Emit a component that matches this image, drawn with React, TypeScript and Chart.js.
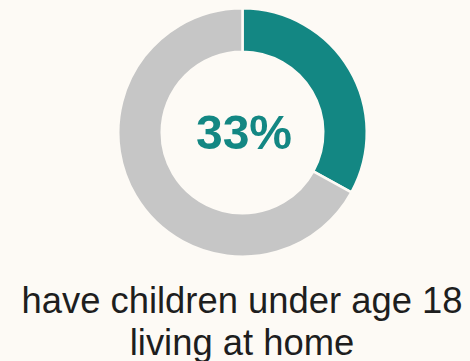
import React, { useEffect, useRef } from "react";
import { Chart, registerables } from "chart.js";

Chart.register(...registerables);

const categories = ["Have children under 18 at home", "Other"];
const values = [33, 67];
const colors = ["#138783", "#c6c6c6"];
const centerLabel = "33%";
const captionLines = ["have children under age 18", "living at home"];

const BG = "#fdfaf5";

const centerTextPlugin = {
  id: "centerText",
  afterDatasetsDraw(chart: any) {
    const meta = chart.getDatasetMeta(0);
    const arc = meta.data[0];
    if (!arc) return;
    const ctx = chart.ctx;
    ctx.save();
    ctx.font = "bold 48px 'Liberation Sans', Arial, sans-serif";
    ctx.fillStyle = colors[0];
    ctx.textAlign = "center";
    ctx.textBaseline = "alphabetic";
    ctx.fillText(centerLabel, arc.x + 1.5, arc.y + 16.5);
    ctx.restore();
  },
};

export default function App() {
  const ref = useRef<HTMLCanvasElement | null>(null);

  useEffect(() => {
    document.body.style.margin = "0";
    document.body.style.background = BG;
    const chart = new Chart(ref.current as HTMLCanvasElement, {
      type: "doughnut",
      data: {
        labels: categories,
        datasets: [
          {
            data: values,
            backgroundColor: colors,
            borderColor: BG,
            borderWidth: 2.5,
            hoverOffset: 0,
          },
        ],
      },
      options: {
        responsive: false,
        animation: false,
        cutout: "65%",
        layout: { padding: { top: 7, left: 15, right: 0, bottom: 0 } },
        plugins: {
          legend: { display: false },
          tooltip: { enabled: false },
        },
      },
      plugins: [centerTextPlugin],
    });
    return () => chart.destroy();
  }, []);

  return (
    <div
      style={{
        position: "relative",
        width: 470,
        height: 361,
        background: BG,
        overflow: "hidden",
      }}
    >
      <canvas
        ref={ref}
        width={470}
        height={258}
        style={{ position: "absolute", left: 0, top: 0, width: 470, height: 258 }}
      />
      <div
        style={{
          position: "absolute",
          left: 0,
          top: 280,
          width: 484,
          textAlign: "center",
          fontFamily: "'Liberation Sans', Arial, sans-serif",
          fontSize: 36.4,
          lineHeight: "42px",
          color: "#1e1e1e",
          whiteSpace: "nowrap",
        }}
      >
        {captionLines.map((l, i) => (
          <div key={i}>{l}</div>
        ))}
      </div>
    </div>
  );
}
